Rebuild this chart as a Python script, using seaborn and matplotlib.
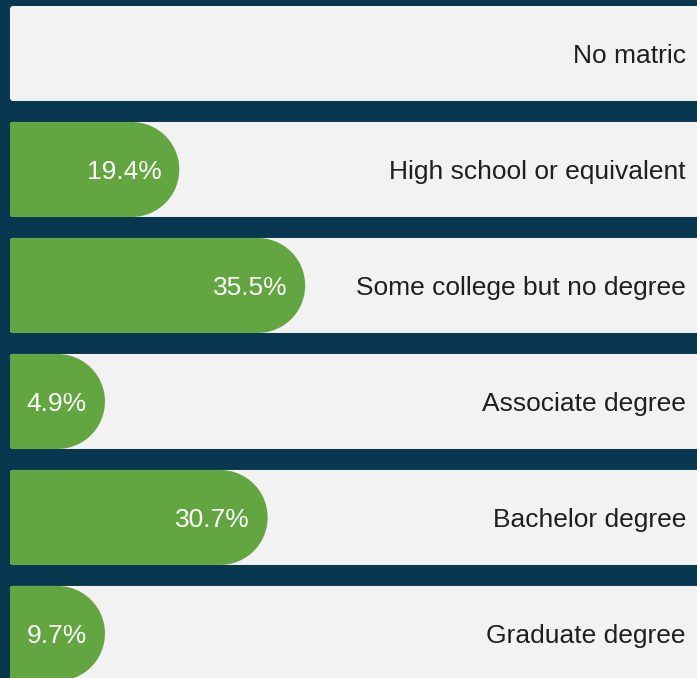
import matplotlib
matplotlib.use("Agg")
import matplotlib.pyplot as plt
from matplotlib.path import Path
from matplotlib.patches import PathPatch
from matplotlib.transforms import IdentityTransform
import seaborn as sns
import pandas as pd
import numpy as np

# ---- data ----
categories = ["No matric", "High school or equivalent", "Some college but no degree",
              "Associate degree", "Bachelor degree", "Graduate degree"]
values = [0.0, 19.4, 35.5, 4.9, 30.7, 9.7]
value_labels = ["", "19.4%", "35.5%", "4.9%", "30.7%", "9.7%"]

# ---- style ----
BG = "#09374f"
ROW = "#f2f2f2"
GREEN = "#63a641"
TXT = "#1f1f1f"
W, H = 697, 678
DPI = 100

sns.set_theme(style="white")
plt.rcParams["font.family"] = ["Liberation Sans", "DejaVu Sans"]

fig = plt.figure(figsize=(W / DPI, H / DPI), dpi=DPI, facecolor=BG)
ax = fig.add_axes([0, 0, 1, 1])
ax.set_facecolor(BG)

df = pd.DataFrame({"category": categories, "value": values})
sns.barplot(data=df, y="category", x="value", orient="h", color=GREEN,
            width=95 / 116, ax=ax)

px_per_unit = 7.82
left_px = 10
ax.set_xlim(-left_px / px_per_unit, (W - left_px) / px_per_unit)
ax.set_ylim(5.384, -0.461)
ax.axis("off")

cap_pad = 17.6  # rounded cap overhang in pixels


def rounded_shape(L, R, B, T, r_left, r_right, n=40):
    """Polygon path in display coords: small left corners, round right cap."""
    pts = []
    # bottom-left corner
    for a in np.linspace(np.pi, 1.5 * np.pi, 6):
        pts.append((L + r_left + r_left * np.cos(a), B + r_left + r_left * np.sin(a)))
    # bottom-right -> right cap -> top-right
    cy = (B + T) / 2
    for a in np.linspace(-0.5 * np.pi, 0.5 * np.pi, n):
        pts.append((R - r_right + r_right * np.cos(a), cy + (T - B) / 2 * np.sin(a)))
    # top-left corner
    for a in np.linspace(0.5 * np.pi, np.pi, 6):
        pts.append((L + r_left + r_left * np.cos(a), T - r_left + r_left * np.sin(a)))
    pts.append(pts[0])
    codes = [Path.MOVETO] + [Path.LINETO] * (len(pts) - 2) + [Path.CLOSEPOLY]
    return Path(pts, codes)


bars = list(ax.patches)
for bar, val, lab, cat in zip(bars, values, value_labels, categories):
    y0 = bar.get_y()
    h = bar.get_height()
    (x_l, y_a), (x_r, y_b) = ax.transData.transform([(0, y0), (val, y0 + h)])
    B, T = min(y_a, y_b), max(y_a, y_b)
    hh = T - B
    cy = (B + T) / 2
    L = left_px
    # background row
    row = PathPatch(rounded_shape(L, W + 20, B, T, 3, 0.01), transform=IdentityTransform(),
                    facecolor=ROW, edgecolor="none", zorder=1)
    fig.patches.append(row) if False else ax.add_artist(row)
    # category label
    ax.text(686, cy - 10.0, cat, transform=IdentityTransform(), ha="right",
            va="baseline", fontsize=19, color=TXT, zorder=5)
    bar.set_visible(False)
    if val > 0:
        R = max(x_r + cap_pad, L + hh)
        shape = PathPatch(rounded_shape(L, R, B, T, 3, hh / 2), transform=IdentityTransform(),
                          facecolor=GREEN, edgecolor="none", zorder=3)
        ax.add_artist(shape)
        ax.text(R - 18, cy - 10.0, lab, transform=IdentityTransform(), ha="right",
                va="baseline", fontsize=19, color="white", zorder=5)

fig.savefig("out.png", dpi=DPI, facecolor=BG)
